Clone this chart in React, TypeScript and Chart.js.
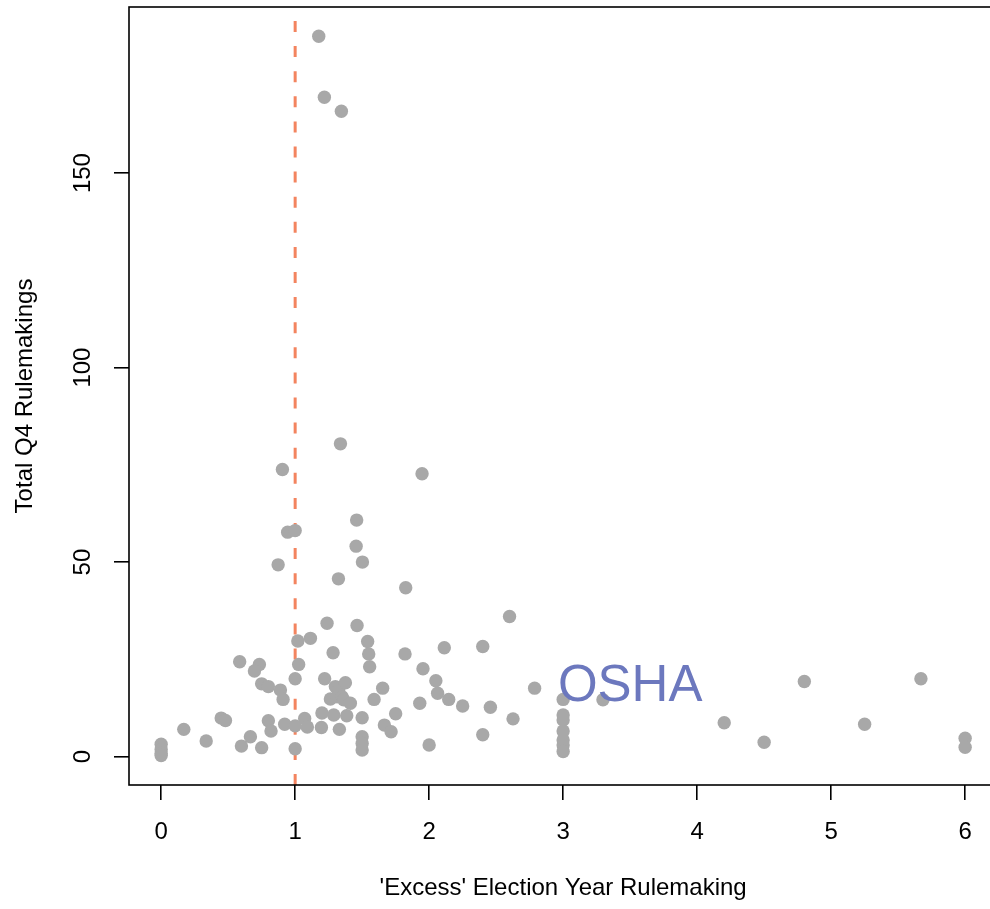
import { useEffect, useRef } from "react";
import { Chart, registerables } from "chart.js";

Chart.register(...registerables);

// ---- data ----
const X_VALUES = [
  0, 0, 0, 0, 0.169, 0.336, 0.448, 0.48, 0.586, 0.666, 0.599, 0.733, 0.696, 0.75, 0.75, 0.8, 0.8, 0.82,
  0.89, 0.91, 0.922, 1.0, 1.0, 1.0, 1.02, 1.026, 1.114, 1.071, 1.091, 1.196, 1.2, 1.22, 1.238, 1.283,
  1.288, 1.33, 1.3, 1.325, 1.375, 1.263, 1.313, 1.35, 1.362, 1.412, 1.385, 1.462, 1.541, 1.549, 1.556,
  1.589, 1.5, 1.5, 1.5, 1.5, 1.653, 1.666, 1.716, 1.75, 1.82, 1.93, 1.954, 2.0, 2.05, 2.063, 2.146,
  2.113, 2.25, 2.4, 2.4, 2.457, 2.6, 2.626, 2.787, 3.0, 3.0, 3.0, 3.0, 3.0, 3.0, 3.0, 3.297, 4.202,
  4.5, 4.8, 5.25, 5.67, 6.0, 6.0, 1.338, 0.905, 1.947, 1.459, 0.944, 1.0, 1.455, 1.502, 0.873, 1.323,
  1.825, 1.176, 1.218, 1.345,
];
const Y_VALUES = [
  3.2, 1.8, 0.8, 0.3, 7.0, 4.0, 9.9, 9.3, 24.4, 5.1, 2.7, 23.7, 22.0, 2.3, 18.7, 18.0, 9.2, 6.6,
  17.1, 14.7, 8.3, 20.0, 7.9, 2.0, 29.7, 23.7, 30.4, 9.8, 7.6, 7.5, 11.2, 20.0, 34.3, 26.7,
  10.7, 7.0, 18.0, 17.1, 19.0, 14.8, 15.4, 15.4, 14.6, 13.7, 10.5, 33.7, 29.6, 26.4, 23.1,
  14.7, 10.0, 5.1, 3.4, 1.7, 17.6, 8.1, 6.4, 11.0, 26.4, 13.7, 22.6, 3.0, 19.5, 16.3, 14.7,
  28.0, 13.0, 28.3, 5.6, 12.7, 36.0, 9.7, 17.6, 14.7, 10.7, 9.4, 6.6, 4.3, 3.0, 1.3, 14.6, 8.7,
  3.7, 19.3, 8.3, 20.0, 4.7, 2.4, 80.4, 73.8, 72.7, 60.8, 57.7, 58.1, 54.1, 50.0, 49.3, 45.7,
  43.4, 185.2, 169.5, 165.9,
];
const X_TICKS = [0, 1, 2, 3, 4, 5, 6];
const Y_TICKS = [0, 50, 100, 150];
const X_RANGE = [-0.24, 6.24];
const Y_RANGE = [-7.3, 192.7];
const REF_LINE_X = 1;
const LABEL_TEXT = "OSHA";
const LABEL_X = 3.5;
const LABEL_Y = 17.9;
const X_TITLE = "'Excess' Election Year Rulemaking";
const Y_TITLE = "Total Q4 Rulemakings";

const FONT = '"Liberation Sans", Arial, Helvetica, sans-serif';
const POINT_COLOR = "#A8A8A8";
const LINE_COLOR = "#F3845F";
const LABEL_COLOR = "#6C78BE";

const decor = {
  id: "decor",
  beforeDatasetsDraw(chart: any) {
    const { ctx, chartArea: a, scales } = chart;
    const px = scales.x.getPixelForValue(REF_LINE_X);
    ctx.save();
    ctx.strokeStyle = LINE_COLOR;
    ctx.lineWidth = 3;
    ctx.setLineDash([11, 14.1]);
    ctx.beginPath();
    ctx.moveTo(px, a.bottom);
    ctx.lineTo(px, a.top);
    ctx.stroke();
    ctx.restore();
  },
  afterDatasetsDraw(chart: any) {
    const { ctx, scales } = chart;
    ctx.save();
    ctx.fillStyle = LABEL_COLOR;
    ctx.font = `51px ${FONT}`;
    ctx.textAlign = "center";
    ctx.textBaseline = "middle";
    ctx.fillText(LABEL_TEXT, scales.x.getPixelForValue(LABEL_X), scales.y.getPixelForValue(LABEL_Y));
    ctx.restore();
  },
  afterDraw(chart: any) {
    const { ctx, chartArea: a, scales } = chart;
    ctx.save();
    ctx.strokeStyle = "#000";
    ctx.lineWidth = 1.6;
    ctx.strokeRect(a.left, a.top, a.right - a.left, a.bottom - a.top);

    ctx.fillStyle = "#000";
    ctx.font = `24px ${FONT}`;
    ctx.textAlign = "center";
    ctx.textBaseline = "middle";
    X_TICKS.forEach((v) => {
      ctx.fillText(String(v), scales.x.getPixelForValue(v), a.bottom + 47);
    });
    ctx.fillText(X_TITLE, (a.left + a.right) / 2, a.bottom + 103);

    Y_TICKS.forEach((v) => {
      ctx.save();
      ctx.translate(a.left - 46, scales.y.getPixelForValue(v));
      ctx.rotate(-Math.PI / 2);
      ctx.fillText(String(v), 0, 0);
      ctx.restore();
    });
    ctx.save();
    ctx.translate(a.left - 104, (a.top + a.bottom) / 2);
    ctx.rotate(-Math.PI / 2);
    ctx.fillText(Y_TITLE, 0, 0);
    ctx.restore();
    ctx.restore();
  },
};

export default function App() {
  const ref = useRef<HTMLCanvasElement | null>(null);
  useEffect(() => {
    if (!ref.current) return;
    const points = X_VALUES.map((x, i) => ({ x, y: Y_VALUES[i] }));
    const chart = new Chart(ref.current, {
      type: "scatter",
      data: {
        datasets: [
          {
            data: points,
            backgroundColor: POINT_COLOR,
            borderWidth: 0,
            pointRadius: 6.7,
            pointHoverRadius: 6.7,
          },
        ],
      },
      options: {
        responsive: false,
        animation: false,
        events: [],
        devicePixelRatio: 1,
        layout: { padding: { top: 7, right: 3, left: 0, bottom: 0 } },
        plugins: { legend: { display: false }, tooltip: { enabled: false } },
        scales: {
          x: {
            type: "linear",
            min: X_RANGE[0],
            max: X_RANGE[1],
            afterBuildTicks: (s: any) => {
              s.ticks = X_TICKS.map((value) => ({ value }));
            },
            afterFit: (s: any) => {
              s.height = 124;
            },
            ticks: { display: false },
            border: { display: false },
            grid: {
              drawOnChartArea: false,
              drawTicks: true,
              tickLength: 15,
              color: "#000",
              lineWidth: 1.6,
            },
          },
          y: {
            type: "linear",
            min: Y_RANGE[0],
            max: Y_RANGE[1],
            afterBuildTicks: (s: any) => {
              s.ticks = Y_TICKS.map((value) => ({ value }));
            },
            afterFit: (s: any) => {
              s.width = 129;
            },
            ticks: { display: false },
            border: { display: false },
            grid: {
              drawOnChartArea: false,
              drawTicks: true,
              tickLength: 15,
              color: "#000",
              lineWidth: 1.6,
            },
          },
        },
      },
      plugins: [decor],
    });
    return () => chart.destroy();
  }, []);

  return (
    <div style={{ position: "fixed", left: 0, top: 0, width: 1004, height: 909, background: "#fff" }}>
      <canvas ref={ref} width={1004} height={909} style={{ display: "block" }} />
    </div>
  );
}
